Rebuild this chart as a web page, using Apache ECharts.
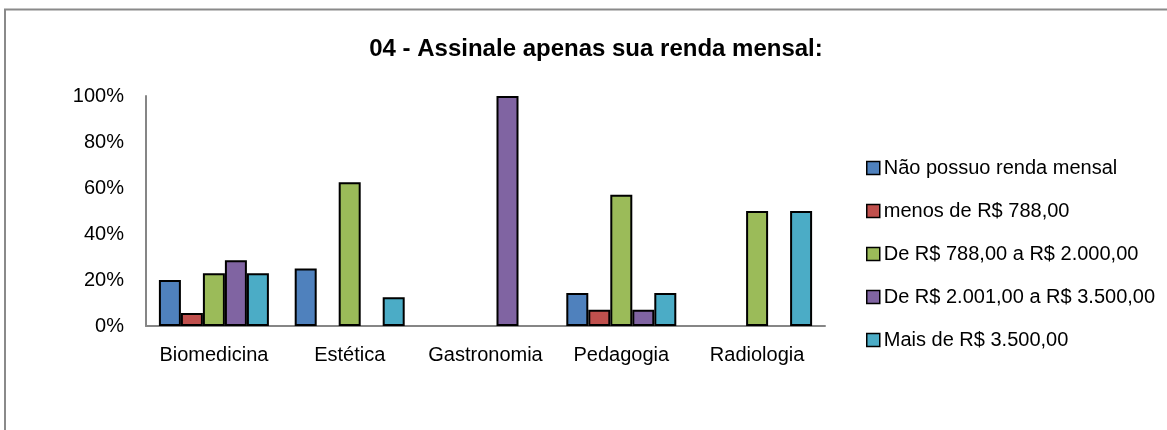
<!DOCTYPE html>
<html>
<head>
<meta charset="utf-8">
<script src="https://cdn.jsdelivr.net/npm/echarts@6/dist/echarts.min.js"></script>
<style>
  html, body { margin: 0; padding: 0; background: #fff; }
  #chart { width: 1167px; height: 430px; }
</style>
</head>
<body>
<div id="chart"></div>
<script>
// categorias e séries (percentuais)
const cursos = ['Biomedicina', 'Estética', 'Gastronomia', 'Pedagogia', 'Radiologia'];
const semRenda = [20.0, 25.0, 0, 14.3, 0];
const menos788 = [5.7, 0, 0, 7.1, 0];
const de788a2000 = [22.9, 62.5, 0, 57.1, 50.0];
const de2001a3500 = [28.6, 0, 100.0, 7.1, 0];
const mais3500 = [22.9, 12.5, 0, 14.3, 50.0];
const nomes = [
  'Não possuo renda mensal',
  'menos de R$ 788,00',
  'De R$ 788,00 a R$ 2.000,00',
  'De R$ 2.001,00 a R$ 3.500,00',
  'Mais de R$ 3.500,00'
];
const cores = ['#4F81BD', '#C0504D', '#9BBB59', '#8064A2', '#4BACC6'];
const yTicks = [0, 20, 40, 60, 80, 100];

const fonte = '"Liberation Sans", Arial, sans-serif';
const dados = [semRenda, menos788, de788a2000, de2001a3500, mais3500];

const chart = echarts.init(document.getElementById('chart'));

const option = {
  animation: false,
  title: {
    text: '04 - Assinale apenas sua renda mensal:',
    left: 591,
    textAlign: 'center',
    top: 32,
    textStyle: { fontFamily: fonte, fontSize: 24, fontWeight: 'bold', color: '#000' }
  },
  legend: {
    orient: 'vertical',
    left: 866,
    top: 158,
    padding: 0,
    itemWidth: 13,
    itemHeight: 13,
    itemGap: 23,
    icon: 'rect',
    itemStyle: { borderColor: '#000', borderWidth: 1.5 },
    textStyle: { fontFamily: fonte, fontSize: 20, color: '#000', padding: [0, 0, 0, -1] },
    data: nomes
  },
  grid: { left: 146, right: 342, top: 96, bottom: 104 },
  xAxis: {
    type: 'category',
    data: cursos,
    axisLine: { lineStyle: { color: '#868686', width: 2 } },
    axisTick: { show: false },
    axisLabel: { interval: 0, fontFamily: fonte, fontSize: 20, color: '#000', margin: 19 }
  },
  yAxis: {
    type: 'value',
    min: yTicks[0],
    max: yTicks[yTicks.length - 1],
    interval: yTicks[1] - yTicks[0],
    axisLine: { show: true, lineStyle: { color: '#868686', width: 2 } },
    axisTick: { show: false },
    splitLine: { show: false },
    axisLabel: { fontFamily: fonte, fontSize: 20, color: '#000', margin: 22, formatter: '{value}%' }
  },
  graphic: [{
    type: 'polyline',
    shape: { points: [[5, 430], [5, 9.5], [1167, 9.5]] },
    style: { stroke: '#8a8a8a', lineWidth: 2, fill: null }
  }],
  series: dados.map((arr, i) => ({
    name: nomes[i],
    type: 'bar',
    barGap: '0%',
    barCategoryGap: '19%',
    // zero = sem barra
    data: arr.map(v => (v === 0 ? '-' : v)),
    itemStyle: { color: cores[i], borderColor: '#000', borderWidth: 2 }
  }))
};

chart.setOption(option);
</script>
</body>
</html>
